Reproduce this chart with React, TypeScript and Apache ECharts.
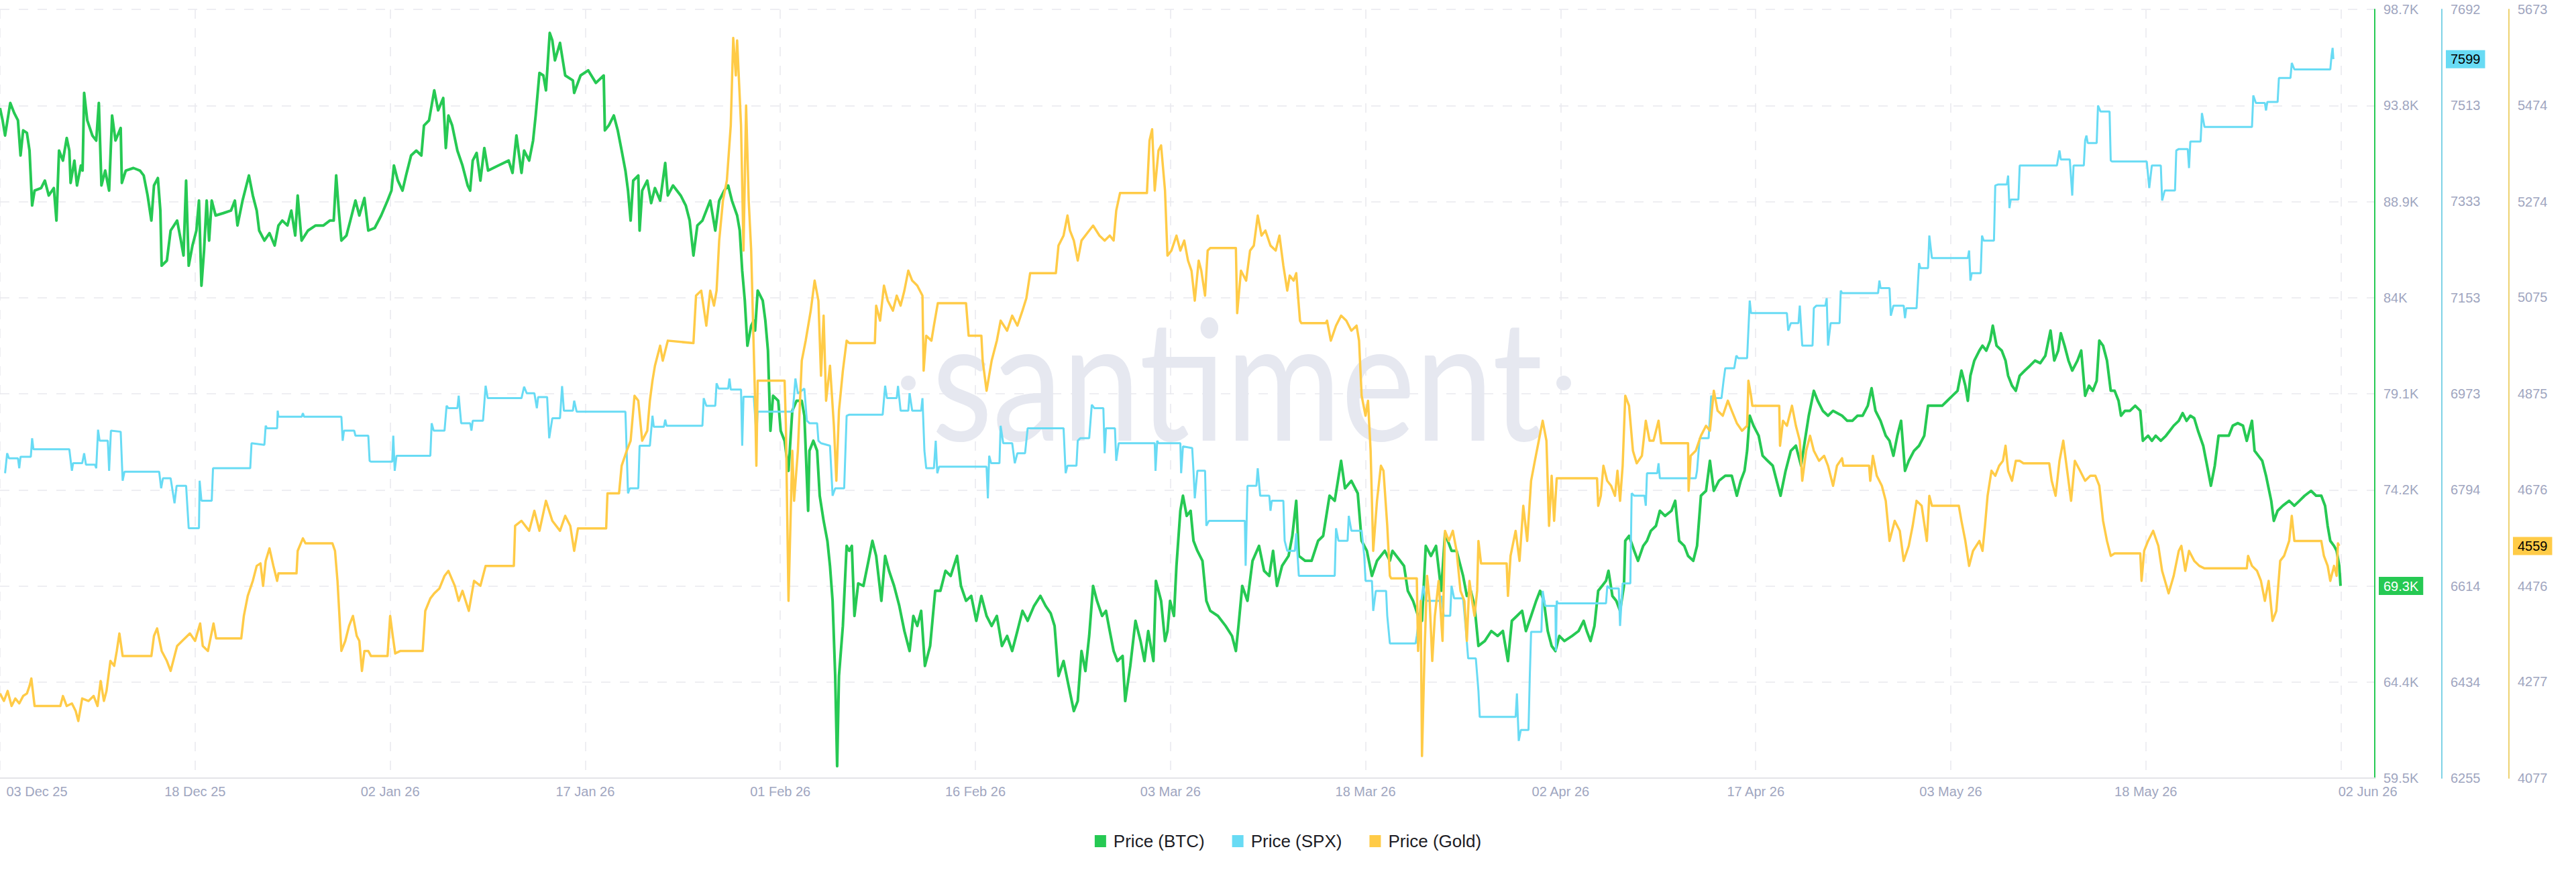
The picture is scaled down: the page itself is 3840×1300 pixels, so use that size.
import React, { useEffect, useRef } from "react";
import * as echarts from "echarts";

// ---------- DATA ----------
// x = days since 03 Dec 2025 00:00
const dateLabels = ["03 Dec 25", "18 Dec 25", "02 Jan 26", "17 Jan 26", "01 Feb 26", "16 Feb 26", "03 Mar 26", "18 Mar 26", "02 Apr 26", "17 Apr 26", "03 May 26", "18 May 26", "02 Jun 26"];
const btcTicks = [59.5, 64.4, 69.3, 74.2, 79.1, 84, 88.9, 93.8, 98.7];
const spxTicks = [6255, 6434, 6614, 6794, 6973, 7153, 7333, 7513, 7692];
const goldTicks = [4077, 4277, 4476, 4676, 4875, 5075, 5274, 5474, 5673];
const seriesNames = ["Price (BTC)", "Price (SPX)", "Price (Gold)"];

// BTC price in thousands USD
const btc = [
[0,93.67],[0.2,93.04],[0.39,92.27],[0.79,93.93],[1.09,93.42],[1.38,93.04],[1.58,91.25],[1.78,92.53],[2.07,92.4],[2.27,91.5],[2.47,88.7],[2.66,89.46],[3.16,89.59],[3.45,89.97],[3.75,89.21],[4.14,89.59],[4.34,87.93],[4.54,91.5],[4.84,90.99],[5.13,92.14],[5.33,91.5],[5.43,89.85],[5.72,90.99],[5.92,89.72],[6.22,90.74],[6.35,90.48],[6.47,94.44],[6.71,93.04],[7.1,92.27],[7.4,92.01],[7.6,93.93],[7.8,89.72],[8.09,90.48],[8.39,89.46],[8.62,93.29],[8.88,92.01],[9.28,92.65],[9.37,89.85],[9.67,90.48],[10.26,90.61],[10.76,90.48],[11.05,90.23],[11.35,89.21],[11.64,87.93],[11.84,89.72],[12.14,90.1],[12.33,88.44],[12.43,85.63],[12.83,85.89],[13.12,87.42],[13.62,87.93],[13.91,86.91],[14.11,86.15],[14.31,89.97],[14.51,85.63],[14.8,86.66],[15.1,87.42],[15.3,88.95],[15.49,84.61],[15.69,86.4],[15.89,88.95],[16.08,86.91],[16.28,88.95],[16.58,88.19],[17.17,88.31],[17.76,88.44],[18.06,88.95],[18.26,87.68],[18.65,88.95],[19.14,90.23],[19.44,89.21],[19.74,88.44],[19.93,87.42],[20.33,86.91],[20.72,87.29],[21.12,86.66],[21.41,87.68],[21.71,87.93],[22.1,87.68],[22.4,88.44],[22.7,87.17],[22.89,89.21],[23.19,86.91],[23.68,87.42],[24.27,87.68],[24.87,87.68],[25.36,87.93],[25.66,87.93],[25.85,90.23],[26.05,88.44],[26.25,86.91],[26.64,87.17],[26.94,87.93],[27.33,88.95],[27.63,88.19],[28.02,89.08],[28.32,87.42],[28.81,87.55],[29.31,88.19],[29.8,88.95],[30.1,89.46],[30.29,90.74],[30.59,89.97],[30.95,89.46],
[31.22,90.23],[31.61,91.25],[32.01,91.5],[32.4,91.25],[32.6,92.78],[32.99,93.04],[33.39,94.57],[33.69,93.55],[34.08,94.18],[34.28,91.63],[34.48,93.29],[34.77,92.78],[35.17,91.5],[35.56,90.74],[35.96,89.72],[36.15,89.46],[36.35,90.99],[36.65,91.38],[36.94,89.97],[37.24,91.63],[37.53,90.48],[38.32,90.74],[39.11,90.99],[39.41,90.36],[39.71,92.27],[40.1,90.36],[40.3,91.5],[40.69,90.99],[40.99,92.01],[41.19,93.29],[41.48,95.46],[41.78,95.33],[41.98,94.57],[42.27,97.5],[42.47,97.12],[42.67,96.1],[43.06,96.99],[43.46,95.33],[44.05,95.08],[44.15,94.44],[44.64,95.33],[45.23,95.59],[45.82,94.95],[46.42,95.33],[46.51,92.53],[46.81,92.78],[47.2,93.29],[47.5,92.53],[47.8,91.5],[48.09,90.48],[48.29,89.46],[48.49,87.93],[48.69,89.97],[49.08,90.23],[49.18,87.42],[49.38,89.46],[49.77,89.97],[50.07,88.82],[50.36,89.59],[50.76,88.95],[51.15,90.87],[51.35,89.21],[51.75,89.72],[52.34,89.21],[52.73,88.7],[53.03,87.93],[53.32,86.15],[53.62,87.68],[54.01,87.93],[54.31,88.44],[54.61,88.95],[55.0,87.42],[55.3,88.95],[55.69,89.46],[55.99,89.72],[56.28,88.95],[56.68,88.19],[56.88,87.42],[57.07,85.38],[57.27,83.85],[57.47,81.55],[57.76,82.57],[57.96,82.83],[58.06,82.32],[58.26,84.36],[58.65,83.85],[58.85,82.83],[59.05,81.3],[59.24,77.21],[59.44,79.0],[59.84,78.74],[60.03,77.21],[60.33,76.7],[60.63,75.17],[60.92,78.23],
[61.25,78.74],[61.65,78.74],[61.85,77.98],[62.14,73.13],[62.24,76.19],[62.54,76.7],[62.83,76.19],[63.03,73.9],[63.33,72.62],[63.62,71.6],[63.82,70.32],[64.02,68.54],[64.22,64.71],[64.37,60.11],[64.51,64.71],[64.81,67.26],[65.1,71.34],[65.3,71.09],[65.5,71.34],[65.7,67.77],[65.99,69.43],[66.39,69.3],[66.78,70.58],[67.08,71.6],[67.37,70.83],[67.77,68.54],[68.06,70.83],[68.36,70.07],[68.75,69.3],[69.15,68.28],[69.54,67.0],[69.94,65.98],[70.23,67.77],[70.53,67.26],[70.83,68.03],[71.12,65.22],[71.52,66.24],[71.91,69.05],[72.31,69.05],[72.7,70.07],[73.1,69.81],[73.59,70.83],[73.89,69.3],[74.28,68.54],[74.68,68.79],[75.07,67.52],[75.46,68.79],[75.86,67.77],[76.25,67.26],[76.65,67.77],[77.04,66.24],[77.44,66.75],[77.83,65.98],[78.23,67.0],[78.62,68.03],[79.02,67.52],[79.51,68.28],[80.0,68.79],[80.4,68.28],[80.79,67.9],[81.09,67.26],[81.39,64.71],[81.78,65.47],[82.17,64.2],[82.57,62.92],[82.87,63.43],[83.16,65.98],[83.46,64.96],[83.75,66.75],[84.05,69.3],[84.35,68.54],[84.74,67.77],[85.04,68.03],[85.33,67.0],[85.63,65.98],[85.92,65.47],[86.32,65.73],[86.52,63.43],[86.91,65.22],[87.31,67.52],[87.7,66.49],[88.0,65.47],[88.29,67.0],[88.69,65.47],[88.88,69.56],[89.28,68.54],[89.58,66.49],[89.77,67.0],[89.97,68.54],[90.27,67.77],[90.46,70.32],[90.76,73.13],[90.96,73.9],[91.25,72.87],[91.55,73.13],
[91.77,71.6],[92.07,71.09],[92.46,70.58],[92.76,68.54],[93.06,68.03],[93.65,67.77],[94.24,67.26],[94.73,66.75],[95.03,65.98],[95.23,67.26],[95.52,69.3],[95.92,68.54],[96.31,70.58],[96.81,71.34],[97.2,70.07],[97.6,69.81],[97.89,71.09],[98.19,69.3],[98.58,70.32],[99.08,70.83],[99.37,71.85],[99.67,73.64],[99.87,70.83],[100.36,70.58],[100.85,70.58],[101.35,71.6],[101.74,71.85],[102.23,73.9],[102.63,73.64],[103.12,75.68],[103.42,74.28],[103.91,74.66],[104.4,74.02],[104.7,71.6],[105.1,71.09],[105.49,69.81],[105.88,70.58],[106.48,71.09],[106.87,70.58],[107.07,71.09],[107.66,70.58],[107.96,70.32],[108.25,69.05],[108.65,68.54],[109.04,67.77],[109.34,67.52],[109.63,71.34],[110.03,70.83],[110.42,71.34],[110.82,69.05],[111.11,71.98],[111.61,71.09],[112.0,71.09],[112.5,69.81],[112.79,68.79],[113.09,69.05],[113.38,68.28],[113.68,66.24],[114.17,66.49],[114.67,67.0],[115.16,66.75],[115.56,67.0],[115.95,65.47],[116.25,67.52],[116.64,67.77],[117.04,68.03],[117.33,67.0],[117.73,67.77],[118.12,68.54],[118.42,69.05],[118.71,68.54],[119.01,67.0],[119.31,66.24],[119.6,65.98],[119.9,66.75],[120.29,66.49],[120.88,66.75],[121.38,67.0],[121.77,67.52],
[122.01,67.0],[122.3,66.49],[122.6,67.26],[122.89,69.05],[123.19,69.3],[123.49,69.56],[123.68,70.07],[123.98,68.79],[124.28,68.54],[124.57,68.03],[124.87,69.3],[124.97,71.6],[125.26,71.85],[125.66,71.09],[125.95,70.58],[126.35,71.34],[126.64,71.6],[126.94,72.11],[127.33,72.36],[127.63,73.13],[128.03,72.87],[128.52,73.13],[128.81,73.64],[129.11,71.6],[129.51,71.34],[129.8,70.83],[130.2,70.58],[130.49,71.34],[130.79,73.9],[131.18,74.15],[131.48,75.68],[131.78,74.15],[132.17,74.66],[132.66,74.92],[133.16,74.92],[133.55,73.9],[133.85,74.66],[134.14,75.17],[134.34,76.19],[134.54,77.98],[134.83,77.47],[135.23,76.96],[135.53,75.94],[135.92,75.68],[136.31,75.43],[136.61,74.66],[136.91,73.9],[137.3,75.17],[137.7,76.19],[138.09,76.45],[138.49,75.43],[138.78,76.7],[139.08,77.98],[139.47,79.25],[139.77,78.74],[140.16,78.23],[140.56,77.98],[140.95,78.23],[141.64,77.98],[142.04,77.72],[142.43,77.72],[142.83,77.98],[143.22,77.98],[143.62,78.49],[143.91,79.38],[144.21,78.23],[144.6,77.72],[145.0,76.96],[145.29,76.7],[145.59,75.94],[145.89,76.96],[146.18,77.72],[146.48,75.17],[146.77,75.68],[147.17,76.19],[147.56,76.45],[147.96,76.96],[148.25,78.49],[148.65,78.49],[149.34,78.49],[149.73,78.74],[150.13,79.0],[150.52,79.25],[150.82,80.28],[151.12,79.51],[151.31,78.74],[151.51,80.02],[151.81,80.79],[152.2,81.3],
[152.44,81.55],[152.73,81.3],[153.03,81.81],[153.23,82.57],[153.52,81.55],[153.92,81.3],[154.21,80.79],[154.41,80.02],[154.71,79.51],[155.0,79.25],[155.3,80.02],[155.69,80.28],[156.09,80.53],[156.48,80.79],[156.88,80.66],[157.27,81.04],[157.67,82.32],[157.96,80.79],[158.26,81.3],[158.46,82.19],[158.75,81.55],[159.05,80.79],[159.34,80.28],[159.74,80.79],[160.03,81.3],[160.23,79.76],[160.33,79.0],[160.63,79.51],[160.92,79.25],[161.22,79.76],[161.42,81.81],[161.71,81.55],[162.01,80.79],[162.3,79.25],[162.6,79.25],[162.9,78.74],[163.09,77.98],[163.39,78.23],[163.78,78.23],[164.18,78.49],[164.57,78.23],[164.77,76.7],[165.17,76.96],[165.46,76.7],[165.76,76.96],[166.15,76.7],[166.55,76.96],[166.84,77.21],[167.14,77.47],[167.53,77.72],[167.83,78.11],[168.13,77.72],[168.42,77.98],[168.72,77.85],[169.01,77.21],[169.41,76.45],[169.71,75.43],[170.0,74.41],[170.3,75.43],[170.59,76.96],[170.99,76.96],[171.38,76.96],[171.68,77.47],[172.07,77.6],[172.47,77.47],[172.76,76.7],[172.96,77.21],[173.16,77.72],[173.36,76.19],[173.65,75.94],[173.95,75.68],[174.24,74.92],[174.64,73.64],[174.84,72.62],[175.13,73.13],[175.53,73.39],[176.02,73.64],[176.42,73.39],[176.81,73.64],[177.21,73.9],[177.7,74.15],[178.09,73.9],[178.49,73.9],[178.78,73.39],[178.98,72.36],[179.18,71.6],[179.47,71.34],[179.67,71.09],[179.87,70.32],[179.97,69.3]
];

// S&P 500 index
const spx = [
[0.39,6824.9],[0.55,6862.3],[0.69,6852.9],[1.38,6852.9],[1.48,6834.2],[1.58,6855.7],[2.37,6855.7],[2.47,6890.3],[2.57,6869.8],[5.33,6869.8],[5.53,6829.5],[5.62,6843.6],[6.32,6843.6],[6.47,6862.3],[6.61,6840.8],[7.3,6840.8],[7.4,6834.2],[7.54,6906.3],[7.66,6885.6],[8.29,6885.6],[8.39,6829.5],[8.53,6904.4],[9.28,6902.5],[9.43,6810.8],[9.57,6827.7],[12.24,6827.7],[12.39,6796.8],[12.53,6815.5],[13.12,6815.5],[13.42,6768.7],[13.58,6801.5],[14.31,6801.5],[14.51,6722],[15.3,6722],[15.35,6810.8],[15.49,6773.4],[16.28,6773.4],[16.38,6834.2],[19.24,6834.2],[19.34,6881],[20.33,6878],[20.43,6913.7],[20.53,6909],[21.31,6909],[21.35,6941.8],[21.41,6930.5],[23.2,6930.5],[23.29,6937.1],[23.38,6930.5],[26.25,6930.5],[26.35,6885.6],[26.45,6904.4],[27.24,6904.4],[27.33,6895],[28.32,6895],[28.42,6848.2],[28.52,6846.4],[30.16,6846.4],[30.24,6895],[30.35,6829.5],[30.49,6857.6],
[33.09,6857.6],[33.19,6918.4],[33.35,6904.4],[34.18,6904.4],[34.34,6951],[34.48,6946.4],[35.17,6946.4],[35.27,6969.8],[35.46,6918.4],[36.15,6918.4],[36.25,6904.4],[36.35,6923.1],[37.14,6923.1],[37.34,6988.5],[37.5,6965.2],[40.1,6965.2],[40.3,6986.7],[40.5,6974.5],[41.09,6974.5],[41.28,6946.4],[41.38,6967.3],[42.07,6967.3],[42.23,6890.3],[42.47,6927.8],[43.06,6927.8],[43.22,6987.9],[43.36,6941.8],[44.05,6941.8],[44.15,6960.5],[44.34,6939.9],[48.09,6939.9],[48.29,6787.4],[48.43,6796.8],[49.08,6796.8],[49.18,6876.3],[49.97,6876.3],[50.17,6932.4],[50.27,6911.8],[51.05,6911.8],[51.15,6925],[51.25,6913.7],[54.01,6913.7],[54.11,6965.2],[54.31,6951],[55.0,6951],[55.1,6993],[55.26,6983.2],[55.99,6983.2],[56.09,7001.9],[56.19,6981.3],[56.98,6981.3],[57.07,6876.3],[57.17,6968],[57.96,6968],[58.16,6895],[58.26,6939.9],[60.96,6939.9],[61.16,7001.9],[61.35,6973.8],[61.85,6983.2],[62.04,6923.1],[62.24,6918.4],[62.83,6918.4],[62.93,6885.6],[63.13,6881],[63.82,6876.3],[64.02,6782.8],[64.22,6796.8],[64.91,6796.8],[65.1,6932.4],[65.3,6934.3],[67.87,6934.3],[68.06,6988.5],[68.2,6965.2],[68.95,6965.2],[69.05,6987.9],[69.25,6941.8],[69.84,6941.8],[69.94,6974.5],[70.14,6941.8],[70.83,6941.8],[70.93,6965.2],[71.08,6867],[71.22,6834.2],[71.81,6834.2],[71.95,6885.6],[72.07,6824.9],[72.21,6837],[75.86,6837],[75.96,6778.1],[76.06,6857.6],[76.21,6843.6],[76.85,6843.6],[76.94,6913.7],[77.14,6881],[77.83,6881],[78.03,6843.6],[78.23,6862.3],[78.82,6862.3],[79.02,6909],[81.78,6909],[81.94,6824.9],[82.08,6838.9],[82.77,6838.9],[82.87,6885.6],[83.06,6890.3],[83.75,6890.3],[83.95,6953],[84.15,6946.4],[84.84,6946.4],[84.94,6862.3],[85.04,6909],[85.73,6909],[85.83,6848.2],[86.02,6881],[88.79,6881],[88.85,6829.5],[88.98,6885.6],[89.08,6881],[90.76,6881],[90.82,6824.9],[90.96,6875],[91.67,6872],[91.77,6829.5],[91.87,6778.1],[92.07,6829.5],[92.66,6829.5],[92.76,6726.6],[92.96,6736],[95.72,6736],[95.78,6651.8],[95.92,6801.5],[96.61,6801.5],[96.71,6834.2],[96.9,6782.8],[97.6,6782.8],[97.69,6754.7],[97.79,6773.4],[98.68,6773.4],[98.78,6698.6],[98.98,6679.9],[99.57,6679.9],[99.67,6712.6],[99.87,6633.1],[102.63,6633.1],[102.73,6722],[102.92,6698.6],[103.62,6698.6],[103.71,6745.3],[103.91,6717.3],[104.7,6717.3],[104.9,6670.5],[105.0,6623.8],[105.49,6623.8],[105.59,6567.6],[105.79,6605],[106.58,6605],[106.67,6558.3],[106.87,6506.8],[108.85,6506.8],[108.94,6520.8],[109.14,6558.3],[109.44,6614.4],[109.63,6586.3],[110.72,6586.3],[110.82,6595.7],[111.02,6558.3],[111.51,6558.3],[111.61,6614.4],[111.81,6591],[112.5,6591],[112.69,6539.5],[112.89,6478.8],[113.48,6478.8],[113.68,6418],[113.78,6369.3],[116.54,6369.3],[116.64,6413.3],[116.78,6324.5],[116.94,6345],[117.53,6345],[117.63,6446],[117.73,6528.3],[118.52,6528.3],[118.62,6605],[118.81,6577],[119.6,6577],[119.64,6492.8],[119.7,6586.3],[119.8,6581.7],
[123.49,6581.7],[123.59,6614.4],[123.78,6609.7],[124.47,6609.7],[124.57,6539.5],[124.77,6619.1],[125.36,6619.1],[125.46,6787.4],[125.66,6782.8],[126.45,6782.8],[126.55,6764.1],[126.64,6824.9],[127.43,6824.9],[127.53,6843.6],[127.63,6815.5],[130.39,6815.5],[130.49,6829.5],[130.69,6890.3],[131.38,6890.3],[131.58,6969.8],[131.68,6965.2],[132.37,6965.2],[132.53,6997.9],[132.66,7021.3],[133.35,7021.3],[133.51,7044.7],[133.65,7040],[134.34,7040],[134.54,7147.6],[134.64,7124.2],[137.4,7124.2],[137.5,7091.4],[137.7,7105.5],[138.29,7105.5],[138.39,7138.2],[138.58,7063.4],[139.37,7063.4],[139.47,7133.5],[139.67,7138.2],[140.36,7138.2],[140.46,7152.2],[140.56,7063.4],[140.76,7105.5],[141.45,7105.5],[141.54,7166.3],[141.64,7161.6],[144.41,7161.6],[144.51,7185],[144.6,7170.9],[145.29,7170.9],[145.39,7119.5],[145.59,7138.2],[146.38,7138.2],[146.48,7114.8],[146.58,7133.5],[147.37,7133.5],[147.56,7217.7],[147.66,7208.4],[148.25,7208.4],[148.35,7269.2],[148.55,7227.1],[151.31,7227.1],[151.41,7241.1],[151.51,7185],[151.61,7199],[152.3,7199],[152.4,7269.2],[152.53,7259.8],[153.32,7259.8],[153.42,7362.7],[153.62,7364.6],[154.31,7364.6],[154.41,7381.4],[154.51,7320.6],[154.61,7336.5],[155.2,7336.5],[155.3,7400.1],[158.16,7400.1],[158.36,7428.2],[158.46,7411.3],[159.15,7411.3],[159.34,7344],[159.44,7400.1],[160.23,7400.1],[160.33,7446.9],[160.43,7456.2],[160.53,7442.2],[161.22,7442.2],[161.32,7512.4],[161.51,7501.2],[162.21,7501.2],[162.3,7409.5],[162.4,7407.6],[165.07,7407.6],[165.26,7358],[165.46,7400.1],[166.15,7400.1],[166.25,7334.6],[166.45,7353.4],[167.24,7353.4],[167.34,7428.2],[167.53,7431],[168.22,7431],[168.32,7395.4],[168.42,7445],[169.21,7445],[169.31,7498.3],[169.51,7472.1],[173.16,7472.1],[173.26,7531.1],[173.46,7517.1],[174.15,7517.1],[174.24,7503.1],[174.34,7518.9],[175.13,7518.9],[175.23,7563.8],[176.12,7563.8],[176.22,7591.9],[176.42,7579.7],[179.18,7579.7],[179.28,7605.9],[179.36,7620],[179.42,7599]
];

// Gold spot price
const gold = [
[0,4252.7],[0.3,4237.1],[0.59,4257.9],[0.89,4226.7],[1.18,4242.3],[1.48,4232],[1.78,4247.5],[2.07,4252.7],[2.27,4268.3],[2.41,4283.9],[2.66,4226.7],[4.64,4226.7],[4.84,4247.5],[5.13,4226.7],[5.53,4232],[5.82,4216.3],[6.02,4195.5],[6.32,4242.3],[6.81,4237.1],[7.2,4247.5],[7.5,4226.7],[7.74,4278.7],[7.99,4237.1],[8.19,4257.9],[8.49,4320.3],[8.78,4309.9],[8.98,4341],[9.18,4377.3],[9.43,4330.6],[11.64,4330.6],[11.84,4372.2],[12.08,4387.8],[12.43,4341],[12.83,4320.3],[13.12,4299.5],[13.42,4330.6],[13.62,4351.4],[14.01,4361.8],[14.6,4377.3],[15.0,4361.8],[15.39,4398.1],[15.59,4351.4],[15.99,4341],[16.42,4398.1],[16.62,4367],[18.55,4367],[18.75,4413.7],[19.05,4455.3],[19.44,4486.5],[19.74,4517.6],[20.03,4522.8],[20.23,4476.1],[20.43,4528],[20.72,4554],[21.02,4517.6],[21.31,4486.5],[21.41,4502],[22.8,4502],[22.89,4548.8],[23.29,4574.8],[23.49,4564.4],[25.56,4564.4],[25.76,4548.8],[25.95,4486.5],[26.25,4341],[26.55,4361.8],[26.84,4393],[27.14,4413.7],[27.43,4372.2],[27.63,4361.8],[27.83,4299.5],[28.02,4341],[28.32,4341],[28.52,4330.6],[29.8,4330.6],[30.0,4413.7],[30.2,4372.2],[30.39,4335.8],[30.79,4341],
[32.5,4341],[32.7,4424.1],[33.09,4450.1],[33.39,4460.5],[33.79,4470.9],[34.18,4496.9],[34.48,4507.2],[34.97,4476.1],[35.27,4444.9],[35.56,4465.7],[36.05,4424.1],[36.45,4486.5],[36.94,4476.1],[37.34,4517.6],[39.51,4517.6],[39.61,4600.7],[40.1,4611.1],[40.69,4590.3],[41.09,4631.9],[41.48,4590.3],[41.98,4652.7],[42.47,4611.1],[43.06,4590.3],[43.46,4621.5],[43.85,4600.7],[44.15,4548.8],[44.44,4595.5],[46.61,4595.5],[46.71,4668.3],[47.6,4668.3],[47.8,4725.5],[48.19,4756.6],[48.49,4777.4],[48.79,4870.9],[49.08,4860.5],[49.38,4777.4],[49.77,4798.2],[49.97,4860.5],[50.17,4902.1],[50.36,4933.2],[50.76,4974.8],[50.96,4943.6],[51.35,4985.2],[53.32,4980],[53.52,5078.7],[53.92,5089.1],[54.31,5016.4],[54.61,5089.1],[54.9,5057.9],[55.1,5089.1],[55.3,5193],[55.59,5276.1],[55.89,5317.7],[56.19,5431.9],[56.38,5613.8],[56.58,5535.9],[56.68,5608.6],[56.98,5431.9],[57.17,5172.2],[57.37,5473.5],[57.57,5276.1],[57.76,5172.2],[57.96,4964.4],[58.06,4860.5],[58.16,4725.5],[58.26,4902.1],[60.33,4902.1],[60.43,4808.5],[60.63,4444.9],[60.92,4756.6],[61.06,4652.7],
[61.35,4756.6],[61.65,4943.6],[61.95,4985.2],[62.34,5047.5],[62.64,5109.9],[62.93,5068.3],[63.13,4912.5],[63.33,5037.1],[63.52,4860.5],[63.82,4933.2],[64.12,4808.5],[64.31,4694.3],[64.51,4839.7],[64.81,4922.9],[65.1,4985.2],[65.3,4980],[67.27,4980],[67.37,5057.9],[67.67,5026.7],[67.97,5099.5],[68.26,5068.3],[68.66,5047.5],[68.95,5078.7],[69.25,5057.9],[69.54,5089.1],[69.84,5130.6],[70.14,5109.9],[70.53,5099.5],[70.93,5078.7],[71.02,4922.9],[71.22,4995.6],[71.62,4985.2],[71.81,5016.4],[72.11,5063.1],[74.28,5063.1],[74.48,4995.6],[75.46,4995.6],[75.56,4943.6],[75.86,4881.3],[76.25,4943.6],[76.65,4985.2],[76.94,5026.7],[77.44,5006],[77.83,5037.1],[78.23,5016.4],[78.62,5047.5],[78.92,5073.5],[79.21,5125.4],[81.19,5125.4],[81.39,5182.6],[81.78,5203.4],[82.08,5245],[82.27,5213.8],[82.57,5193],[82.87,5151.4],[83.16,5193],[83.75,5213.8],[84.05,5224.2],[84.54,5203.4],[84.94,5193],[85.33,5203.4],[85.63,5193],[85.83,5255.3],[86.12,5291.7],[88.19,5291.7],[88.39,5400.8],[88.59,5424],[88.79,5296.9],[89.08,5380],[89.28,5390.4],[89.58,5296.9],[89.77,5161.8],[90.07,5172.2],[90.46,5203.4],[90.76,5172.2],[91.06,5193],[91.35,5151.4],[91.62,5130],
[91.87,5068.3],[92.17,5151.4],[92.37,5130.6],[92.66,5078.7],[92.86,5172.2],[93.06,5177.4],[95.03,5177.4],[95.13,5042.3],[95.42,5130.6],[95.82,5109.9],[96.12,5172.2],[96.41,5182.6],[96.71,5245],[97.0,5203.4],[97.3,5213.8],[97.69,5182.6],[98.09,5172.2],[98.38,5203.4],[98.68,5141],[98.98,5089.1],[99.17,5120.3],[99.47,5109.9],[99.67,5125.4],[99.96,5026.7],[100.06,5021.6],[101.94,5021.6],[102.04,5026.7],[102.33,4985.2],[102.73,5016.4],[103.12,5037.1],[103.52,5026.7],[103.91,5006],[104.31,5016.4],[104.5,4985.2],[104.7,4870.9],[105.0,4829.3],[105.19,4860.5],[105.39,4756.6],[105.59,4548.8],[105.88,4652.7],[106.18,4725.5],[106.38,4715.1],[106.67,4600.7],[106.87,4496.9],[106.97,4491.7],[108.94,4491.7],[109.04,4341],[109.24,4444.9],[109.34,4122.8],[109.54,4341],[109.73,4496.9],[109.93,4444.9],[110.13,4320.3],[110.33,4413.7],[110.62,4486.5],[110.92,4361.8],[111.11,4590.3],[111.41,4569.4],[111.71,4590.3],[112.0,4548.8],[112.3,4465.7],[112.6,4444.9],[112.79,4361.8],[112.99,4486.5],[113.19,4444.9],[113.38,4413.7],[113.58,4465.7],[113.68,4569.4],[113.88,4522.8],[115.85,4522.8],[115.95,4455.3],[116.15,4538.4],[116.54,4590.3],[116.84,4528],[117.13,4642.3],[117.43,4569.4],[117.73,4694.3],[118.02,4735.8],[118.32,4777.4],[118.62,4819],[118.91,4777.4],[119.11,4600.7],[119.31,4704.7],[119.5,4611.1],[119.7,4699.5],[122.8,4699.5],
[122.89,4642.3],[123.09,4663.1],[123.29,4725.5],[123.58,4694.3],[123.88,4683.9],[124.18,4663.1],[124.37,4715.1],[124.57,4652.7],[124.77,4725.5],[124.97,4870.9],[125.26,4850.1],[125.56,4756.6],[125.85,4730.6],[126.25,4746.2],[126.55,4819],[126.84,4777.4],[127.14,4777.4],[127.53,4819],[127.73,4772.2],[129.8,4772.2],[129.84,4673.5],[130.0,4746.2],[130.39,4756.6],[130.79,4787.8],[131.18,4808.5],[131.48,4798.2],[131.78,4881.3],[132.07,4839.7],[132.47,4829.3],[132.86,4860.5],[133.16,4839.7],[133.55,4813.8],[133.95,4798.2],[134.34,4808.5],[134.44,4902.1],[134.64,4870.9],[134.74,4850.1],[136.81,4850.1],[136.87,4767],[137.1,4819],[137.4,4808.5],[137.79,4850.1],[138.09,4808.5],[138.39,4777.4],[138.58,4694.3],[138.88,4756.6],[139.18,4787.8],[139.47,4756.6],[139.87,4735.8],[140.26,4746.2],[140.56,4725.5],[140.95,4683.9],[141.25,4725.5],[141.64,4741],[141.74,4725.5],[143.72,4725.5],[143.81,4694.3],[144.01,4746.2],[144.31,4704.7],[144.7,4683.9],[145.0,4652.7],[145.29,4569.4],[145.69,4611.1],[146.08,4590.3],[146.38,4528],[146.77,4559.2],[147.07,4600.7],[147.37,4652.7],[147.76,4642.3],[148.16,4569.4],[148.35,4663.1],[148.55,4642.3],[150.62,4642.3],[150.82,4611.1],[151.12,4569.4],[151.41,4517.6],[151.71,4548.8],[152.2,4569.4],
[152.44,4548.8],[152.63,4600.7],[152.83,4663.1],[153.13,4715.1],[153.42,4704.7],[153.72,4725.5],[154.01,4735.8],[154.21,4767],[154.41,4715.1],[154.71,4694.3],[155.0,4735.8],[155.3,4735.8],[155.59,4730.6],[157.57,4730.6],[157.76,4694.3],[158.06,4663.1],[158.36,4735.8],[158.65,4777.4],[158.95,4715.1],[159.25,4652.7],[159.54,4735.8],[159.94,4715.1],[160.33,4694.3],[160.73,4704.7],[161.12,4704.7],[161.42,4683.9],[161.71,4611.1],[162.01,4569.4],[162.3,4538.4],[162.6,4543.6],[164.57,4543.6],[164.67,4486.5],[164.87,4548.8],[165.17,4569.4],[165.56,4590.3],[165.96,4559.2],[166.25,4507.2],[166.75,4460.5],[167.14,4496.9],[167.53,4548.8],[167.73,4559.2],[168.03,4507.2],[168.32,4548.8],[168.72,4528],[169.11,4517.6],[169.51,4512.4],[172.76,4512.4],[172.86,4538.4],[173.16,4517.6],[173.55,4507.2],[173.85,4486.5],[174.15,4444.9],[174.44,4486.5],[174.74,4403.3],[175.03,4424.1],[175.33,4528],[175.63,4538.4],[176.02,4569.4],[176.22,4621.5],[176.42,4569.4],[178.49,4569.4],[178.69,4538.4],[178.98,4517.6],[179.18,4486.5],[179.47,4517.6],[179.67,4496.9],[179.77,4564.4],[179.87,4559]
];

// ---------- STYLE ----------
const GREEN = "#26c953";
const CYAN = "#68dbf4";
const GOLD = "#ffcb47";
const AXIS_TEXT = "#9fa6bf";
const FONT = "'Liberation Sans', Arial, sans-serif";
const GRID_LINE = "#e9e9ee";

const fmtBtc = (v: number) => `${+v.toFixed(1)}K`;
const fmtInt = (v: number) => `${Math.round(v)}`;

export default function App() {
  const ref = useRef<HTMLDivElement>(null);
  useEffect(() => {
    if (!ref.current) return;
    const chart = echarts.init(ref.current, null, { renderer: "svg" });

    const yAxisBase = (ticks: number[], color: string, offset: number, fmt: (v: number) => string, split: boolean) => ({
      type: "value",
      position: "right",
      offset,
      min: ticks[0],
      max: ticks[ticks.length - 1],
      axisLine: { show: true, onZero: false, lineStyle: { color, width: 2 } },
      axisTick: { show: false, customValues: ticks },
      axisLabel: {
        customValues: ticks,
        formatter: (v: number) => fmt(v),
        color: AXIS_TEXT,
        fontSize: 20,
        fontFamily: FONT,
        margin: 13,
      },
      splitLine: { show: split, lineStyle: { color: GRID_LINE, width: 1.5, type: [14, 14] } },
    });

    const option: any = {
      animation: false,
      backgroundColor: "#ffffff",
      grid: { left: 0, right: 300, top: 14, bottom: 140, containLabel: false },
      legend: {
        data: seriesNames,
        left: "center",
        top: 1236,
        icon: "rect",
        itemWidth: 17,
        itemHeight: 18,
        itemGap: 41,
        textStyle: { fontSize: 26, color: "#1c1c24", fontFamily: FONT, padding: [0, 0, 0, 6] },
      },
      xAxis: {
        type: "value",
        min: 0,
        max: 182.6,
        interval: 15,
        axisLine: { show: true, onZero: false, lineStyle: { color: "#e4e4e8", width: 2 } },
        axisTick: { show: false },
        splitLine: { show: true, lineStyle: { color: GRID_LINE, width: 1.5, type: [14, 14] } },
        axisLabel: {
          color: AXIS_TEXT,
          fontSize: 20,
          fontFamily: FONT,
          margin: 10,
          showMinLabel: true,
          showMaxLabel: false,
          formatter: (v: number) => {
            const i = Math.round(v / 15);
            if (Math.abs(v - i * 15) > 1e-6 || i < 0 || i >= dateLabels.length) return "";
            if (i === 0) return `{first|${dateLabels[i]}}`;
            if (i === dateLabels.length - 1) return `{last|${dateLabels[i]}}`;
            return dateLabels[i];
          },
          rich: {
            first: { padding: [0, 0, 0, 110], fontSize: 20, color: AXIS_TEXT, fontFamily: FONT },
            last: { padding: [0, 0, 0, 80], fontSize: 20, color: AXIS_TEXT, fontFamily: FONT },
          },
        },
      },
      yAxis: [
        yAxisBase(btcTicks, GREEN, 0, fmtBtc, true),
        yAxisBase(spxTicks, "#7fd3e6", 100, fmtInt, false),
        yAxisBase(goldTicks, "#edd271", 200, fmtInt, false),
      ],
      series: [
        { name: seriesNames[0], type: "line", yAxisIndex: 0, data: btc, showSymbol: false, symbol: "none", lineStyle: { width: 4, color: GREEN, join: "round" }, itemStyle: { color: GREEN }, silent: true, z: 3 },
        { name: seriesNames[1], type: "line", yAxisIndex: 1, data: spx, showSymbol: false, symbol: "none", lineStyle: { width: 3, color: CYAN }, itemStyle: { color: CYAN }, silent: true, z: 4 },
        { name: seriesNames[2], type: "line", yAxisIndex: 2, data: gold, showSymbol: false, symbol: "none", lineStyle: { width: 3.5, color: GOLD, join: "round" }, itemStyle: { color: GOLD }, silent: true, z: 5 },
      ],
    };
    chart.setOption(option);

    // watermark sizing
    const wmFont = "Lato";
    const wmSize = 250;
    let scaleX = 0.85;
    try {
      const c = document.createElement("canvas").getContext("2d");
      if (c) {
        c.font = `${wmSize}px ${wmFont}`;
        const w = c.measureText("santiment").width;
        if (w > 0) scaleX = 911 / w;
      }
    } catch (e) {}

    const gridRight = 3840 - 300;
    const badge = (axisIndex: number, value: number, text: string, bg: string, fg: string, axisX: number) => ({
      type: "text",
      x: axisX + 6,
      y: chart.convertToPixel({ yAxisIndex: axisIndex } as any, value) as any,
      z: 100,
      style: {
        text,
        fill: fg,
        backgroundColor: bg,
        padding: [4, 7, 3, 7],
        fontSize: 20,
        fontFamily: FONT,
        verticalAlign: "middle",
        align: "left",
      },
    });
    const lastBtc = btc[btc.length - 1][1];
    const lastSpx = spx[spx.length - 1][1];
    const lastGold = gold[gold.length - 1][1];

    chart.setOption({
      graphic: [
        { type: "circle", z: 0, shape: { cx: 1354, cy: 571, r: 11 }, style: { fill: "#e6e8f0" }, silent: true },
        { type: "circle", z: 0, shape: { cx: 2331, cy: 571, r: 11 }, style: { fill: "#e6e8f0" }, silent: true },
        {
          type: "text", z: 0, x: 1389, y: 560, scaleX, silent: true,
          style: { text: "santiment", fill: "#e6e8f0", fontSize: wmSize, fontFamily: wmFont, align: "left", verticalAlign: "middle" },
        },
        badge(0, lastBtc, fmtBtc(lastBtc), GREEN, "#ffffff", gridRight),
        badge(1, lastSpx, fmtInt(lastSpx), CYAN, "#000000", gridRight + 100),
        badge(2, lastGold, fmtInt(lastGold), GOLD, "#000000", gridRight + 200),
      ],
    });

    return () => chart.dispose();
  }, []);
  return <div ref={ref} style={{ position: "absolute", left: 0, top: 0, width: 3840, height: 1300, background: "#fff" }} />;
}
